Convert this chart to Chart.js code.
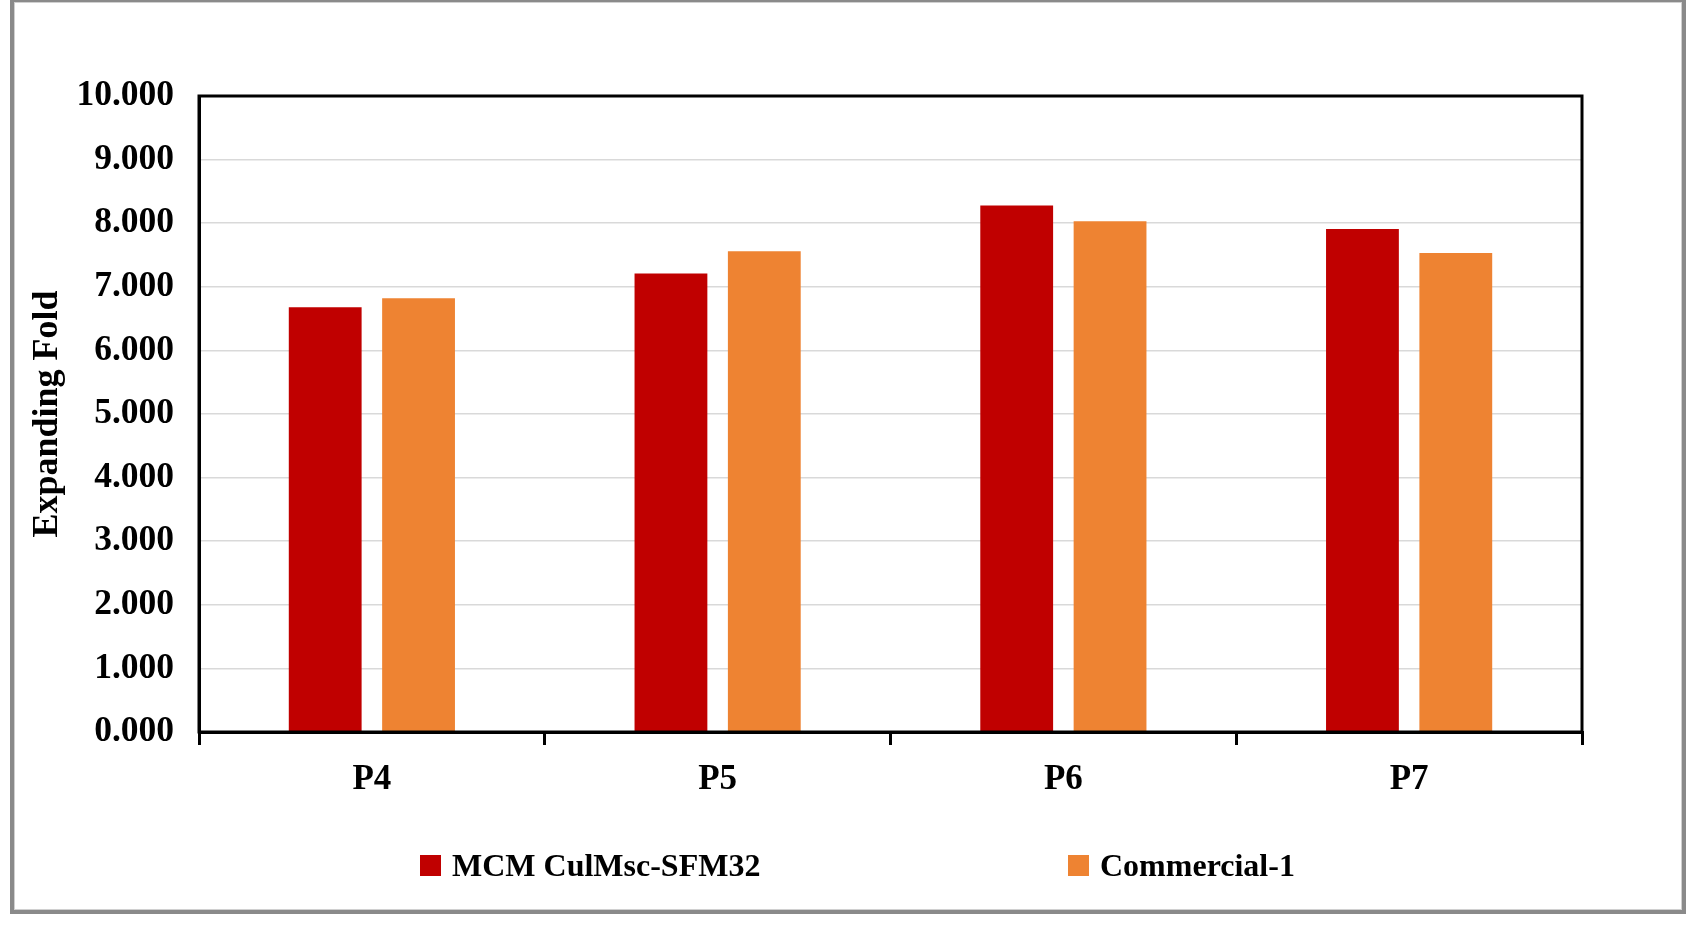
<!DOCTYPE html>
<html>
<head>
<meta charset="utf-8">
<script src="https://cdn.jsdelivr.net/npm/chart.js@4.4.1/dist/chart.umd.min.js"></script>
<style>
  html, body { margin: 0; padding: 0; background: #fff; }
  #wrap { position: relative; width: 1706px; height: 931px; overflow: hidden; }
  #frame { position: absolute; left: 10px; top: -2px; width: 1668px; height: 908px;
           border: 4px solid #8a8a8a; box-shadow: inset 0 0 0 1px #d0d0d0; background: #fff; }
  #box { position: absolute; left: 0; top: 0; width: 1706px; height: 931px; }
  .leg { position: absolute; top: 846px; font-family: "Liberation Serif", "Times New Roman", serif;
         font-weight: bold; font-size: 32px; color: #000; white-space: nowrap; line-height: 38px; }
  .sw { display: inline-block; width: 21px; height: 21px; vertical-align: middle; margin-right: 11px; position: relative; top: -3px; }
</style>
</head>
<body>
<div id="wrap">
  <div id="frame"></div>
  <div id="box"><canvas id="c"></canvas></div>
  <div class="leg" id="leg1" style="left:420px;"><span class="sw" id="sw1"></span><span id="lt1"></span></div>
  <div class="leg" id="leg2" style="left:1068px;"><span class="sw" id="sw2"></span><span id="lt2"></span></div>
</div>
<script>
const categories = ["P4", "P5", "P6", "P7"];
const seriesNames = ["MCM CulMsc-SFM32", "Commercial-1"];
const mcmValues = [6.68, 7.21, 8.28, 7.91];
const commercialValues = [6.82, 7.56, 8.03, 7.53];
const seriesColors = ["#C00000", "#EE8332"];
const yTickValues = [0, 1, 2, 3, 4, 5, 6, 7, 8, 9, 10];

document.getElementById('sw1').style.background = seriesColors[0];
document.getElementById('sw2').style.background = seriesColors[1];
document.getElementById('lt1').textContent = seriesNames[0];
document.getElementById('lt2').textContent = seriesNames[1];

const FONT = "'Liberation Serif', 'Times New Roman', serif";

const plotBorder = {
  id: 'plotBorder',
  afterDraw(chart) {
    const a = chart.chartArea, ctx = chart.ctx;
    ctx.save();
    ctx.strokeStyle = '#000';
    ctx.lineWidth = 3;
    ctx.strokeRect(a.left, a.top, a.right - a.left, a.bottom - a.top);
    ctx.restore();
  }
};

new Chart(document.getElementById('c'), {
  type: 'bar',
  data: {
    labels: categories,
    datasets: [
      { label: seriesNames[0], data: mcmValues, backgroundColor: seriesColors[0],
        barPercentage: 0.78, categoryPercentage: 0.54 },
      { label: seriesNames[1], data: commercialValues, backgroundColor: seriesColors[1],
        barPercentage: 0.78, categoryPercentage: 0.54 }
    ]
  },
  options: {
    responsive: true,
    maintainAspectRatio: false,
    animation: false,
    layout: { padding: { left: 0, top: 96, right: 124, bottom: 129 } },
    plugins: { legend: { display: false }, tooltip: { enabled: false } },
    scales: {
      x: {
        afterFit: (s) => { s.height = 70; },
        grid: { drawOnChartArea: false, drawTicks: true, tickLength: 13, color: '#000', lineWidth: 3, offset: true },
        border: { display: true, color: '#000', width: 3 },
        ticks: { color: '#000', padding: 14, font: { family: FONT, weight: 'bold', size: 35 } }
      },
      y: {
        min: 0, max: 10,
        afterFit: (s) => { s.width = 199; },
        afterBuildTicks: (s) => { s.ticks = yTickValues.map(v => ({ value: v })); },
        grid: { color: '#d9d9d9', lineWidth: 1.5, drawTicks: false },
        border: { display: true, color: '#000', width: 3 },
        ticks: { color: '#000', padding: 25, font: { family: FONT, weight: 'bold', size: 35.5 },
                 callback: (v) => Number(v).toFixed(3) },
        title: { display: true, text: 'Expanding Fold', color: '#000',
                 font: { family: FONT, weight: 'bold', size: 36 }, padding: { top: 26, bottom: 0 } }
      }
    }
  },
  plugins: [plotBorder]
});
</script>
</body>
</html>
